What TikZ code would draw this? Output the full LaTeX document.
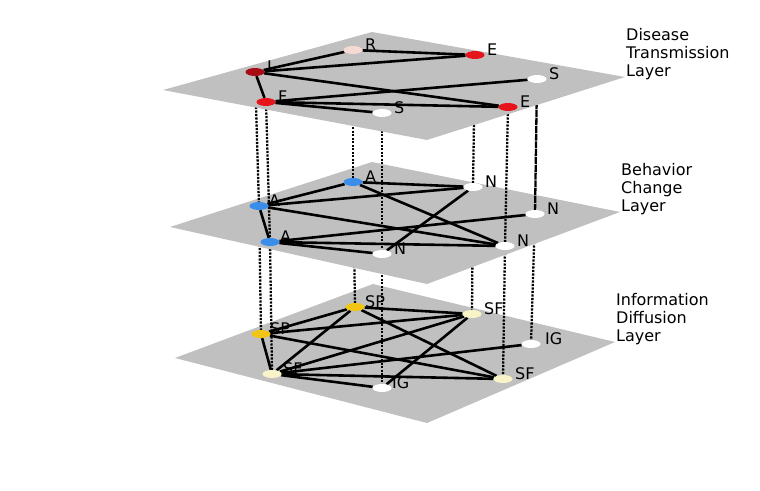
\documentclass[tikz,border=0pt]{standalone}
\usepackage{fontspec}
\setmainfont{DejaVu Sans}
\usetikzlibrary{shapes.geometric}
\definecolor{planegray}{HTML}{C0C0C0}
\definecolor{cred}{HTML}{E8141C}
\definecolor{cdred}{HTML}{A80C12}
\definecolor{cpink}{HTML}{F4DAD2}
\definecolor{cblue}{HTML}{3A8DE8}
\definecolor{cgold}{HTML}{F2C414}
\definecolor{ccream}{HTML}{F8F4C8}
\pgfdeclarelayer{bp}\pgfdeclarelayer{bv}\pgfdeclarelayer{be}\pgfdeclarelayer{bn}
\pgfdeclarelayer{mp}\pgfdeclarelayer{mv}\pgfdeclarelayer{me}\pgfdeclarelayer{mn}
\pgfdeclarelayer{tp}\pgfdeclarelayer{te}\pgfdeclarelayer{tn}
\pgfsetlayers{bp,bv,be,bn,mp,mv,me,mn,tp,te,tn,main}
\tikzset{
  plane/.style={fill=planegray, draw=none},
  vnode/.style={ellipse, minimum width=19pt, minimum height=8pt, inner sep=0pt, draw=none, fill=#1},
  edge/.style={line width=2.6pt, black},
  vlink/.style={line width=2.3pt, black, dash pattern=on 2.2pt off 1.3pt},
  vsolid/.style={line width=2.3pt, black, dash pattern=on 7pt off 0.8pt},
  lbl/.style={anchor=base west, inner sep=0pt, font=\fontsize{16}{18}\selectfont},
  layerlbl/.style={anchor=north west, align=left, inner sep=0pt, font=\fontsize{16}{18}\selectfont}
}
\begin{document}
\begin{tikzpicture}[x=1pt,y=-1pt]
\useasboundingbox (0,0) rectangle (760,490);
% ---------------- planes
\begin{pgfonlayer}{bp}
  \fill[plane] (175,358) -- (373,284) -- (615,342) -- (427,423) -- cycle;
\end{pgfonlayer}
\begin{pgfonlayer}{mp}
  \fill[plane] (170,227) -- (372,162) -- (620,212) -- (427,284) -- cycle;
\end{pgfonlayer}
\begin{pgfonlayer}{tp}
  \fill[plane] (163,90) -- (372,32) -- (625,77) -- (427,140) -- cycle;
\end{pgfonlayer}
% ---------------- top layer nodes
\begin{pgfonlayer}{tn}
  \node[vnode=cpink] (tR) at (353,50) {};
  \node[vnode=cred] (tEt) at (475,55) {};
  \node[vnode=cdred] (tI) at (255,72) {};
  \node[vnode=white] (tSr) at (537,79) {};
  \node[vnode=cred] (tF) at (266,102) {};
  \node[vnode=white] (tSl) at (382,113) {};
  \node[vnode=cred] (tEl) at (508,107) {};
  \node[lbl] (ltR) at (365,50) {R};
  \node[lbl] (ltEt) at (487,55) {E};
  \node[lbl] (ltI) at (267,72) {I};
  \node[lbl] (ltSr) at (549,79) {S};
  \node[lbl] (ltF) at (278,102) {F};
  \node[lbl] (ltSl) at (394,113) {S};
  \node[lbl] (ltEl) at (520,107) {E};
\end{pgfonlayer}
% ---------------- middle layer nodes
\begin{pgfonlayer}{mn}
  \node[vnode=cblue] (mAt) at (353,182) {};
  \node[vnode=white] (mN1) at (473,187) {};
  \node[vnode=cblue] (mAl) at (259,206) {};
  \node[vnode=white] (mNr) at (535,214) {};
  \node[vnode=cblue] (mAo) at (270,242) {};
  \node[vnode=white] (mNb) at (382,254) {};
  \node[vnode=white] (mNlr) at (505,246) {};
  \node[lbl] (lmAt) at (365,182) {A};
  \node[lbl] (lmN1) at (485,187) {N};
  \node[lbl] (lmAl) at (269,206) {A};
  \node[lbl] (lmNr) at (547,214) {N};
  \node[lbl] (lmAo) at (280,242) {A};
  \node[lbl] (lmNb) at (394,254) {N};
  \node[lbl] (lmNlr) at (517,246) {N};
\end{pgfonlayer}
% ---------------- bottom layer nodes
\begin{pgfonlayer}{bn}
  \node[vnode=cgold] (bSPt) at (355,307) {};
  \node[vnode=ccream] (bSF1) at (472,314) {};
  \node[vnode=cgold] (bSPl) at (261,334) {};
  \node[vnode=white] (bIGr) at (531,344) {};
  \node[vnode=ccream] (bSFl) at (272,374) {};
  \node[vnode=white] (bIGb) at (382,388) {};
  \node[vnode=ccream] (bSFr) at (503,379) {};
  \node[lbl] (lbSPt) at (365,307) {SP};
  \node[lbl] (lbSF1) at (484,314) {SF};
  \node[lbl] (lbSPl) at (270,334) {SP};
  \node[lbl] (lbIGr) at (545,344) {IG};
  \node[lbl] (lbSFl) at (283,374) {SF};
  \node[lbl] (lbIGb) at (392,388) {IG};
  \node[lbl] (lbSFr) at (515,379) {SF};
\end{pgfonlayer}
% ---------------- top edges
\begin{pgfonlayer}{te}
  \draw[edge] (tI) -- (tR);
  \draw[edge] (tI) -- (tEt);
  \draw[edge] (tR) -- (tEt);
  \draw[edge] (tI) -- (tEl);
  \draw[edge] (tI) -- (tF);
  \draw[edge] (tF) -- (tSr);
  \draw[edge] (tF) -- (tEl);
  \draw[edge] (tF) -- (tSl);
\end{pgfonlayer}
% ---------------- middle edges
\begin{pgfonlayer}{me}
  \draw[edge] (mAt) -- (mN1);
  \draw[edge] (mAt) -- (mNlr);
  \draw[edge] (mAl) -- (mAt);
  \draw[edge] (mAl) -- (mN1);
  \draw[edge] (mAl) -- (mNlr);
  \draw[edge] (mAl) -- (mAo);
  \draw[edge] (mAo) -- (mNr);
  \draw[edge] (mAo) -- (mNlr);
  \draw[edge] (mAo) -- (mNb);
  \draw[edge] (mN1) -- (mNb);
\end{pgfonlayer}
% ---------------- bottom edges
\begin{pgfonlayer}{be}
  \draw[edge] (bSPt) -- (bSPl);
  \draw[edge] (bSPt) -- (bSFl);
  \draw[edge] (bSPt) -- (bSF1);
  \draw[edge] (bSPt) -- (bSFr);
  \draw[edge] (bSPl) -- (bSF1);
  \draw[edge] (bSPl) -- (bSFr);
  \draw[edge] (bSPl) -- (bSFl);
  \draw[edge] (bSFl) -- (bSF1);
  \draw[edge] (bSFl) -- (bIGr);
  \draw[edge] (bSFl) -- (bSFr);
  \draw[edge] (bSFl) -- (bIGb);
  \draw[edge] (bSF1) -- (bIGb);
\end{pgfonlayer}
% ---------------- top -> middle links
\begin{pgfonlayer}{mv}
  \draw[vlink] (tI.center) -- (mAl.center);
  \draw[vlink] (tF.center) -- (mAo.center);
  \draw[vlink] (tR.center) -- (mAt.center);
  \draw[vlink] (tSl.center) -- (mNb.center);
  \draw[vlink] (tEt.center) -- (mN1.center);
  \draw[vlink] (tEl.center) -- (mNlr.center);
  \draw[vsolid] (tSr.center) -- (mNr.center);
\end{pgfonlayer}
% ---------------- middle -> bottom links
\begin{pgfonlayer}{bv}
  \draw[vlink] (mAl.center) -- (bSPl.center);
  \draw[vlink] (mAo.center) -- (bSFl.center);
  \draw[vlink] (mAt.center) -- (bSPt.center);
  \draw[vlink] (mNb.center) -- (bIGb.center);
  \draw[vlink] (mN1.center) -- (bSF1.center);
  \draw[vlink] (mNlr.center) -- (bSFr.center);
  \draw[vlink] (mNr.center) -- (bIGr.center);
\end{pgfonlayer}
% ---------------- layer labels
\node[layerlbl] (Ltop) at (626,28.5) {Disease\\Transmission\\Layer};
\node[layerlbl] (Lmid) at (621,163) {Behavior\\Change\\Layer};
\node[layerlbl] (Lbot) at (616,293) {Information\\Diffusion\\Layer};
\end{tikzpicture}
\end{document}
